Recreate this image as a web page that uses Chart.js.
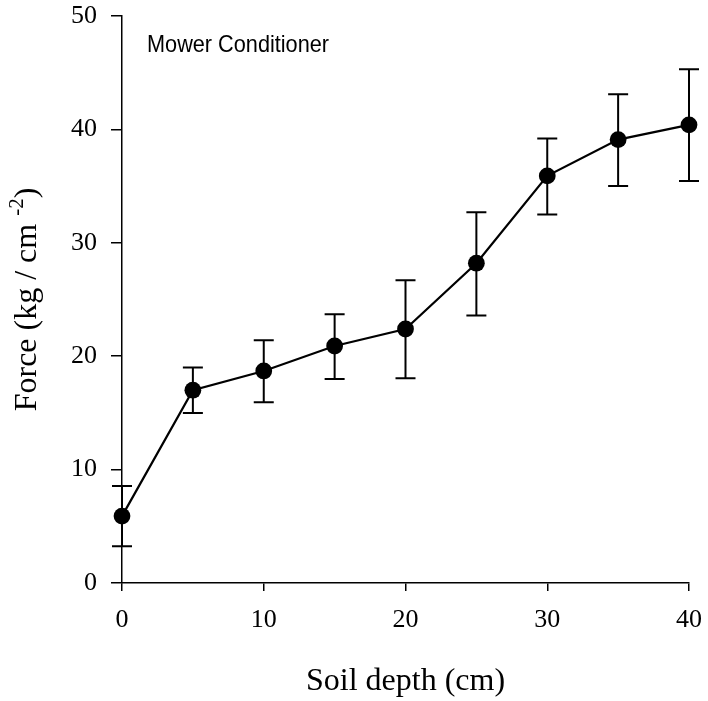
<!DOCTYPE html>
<html>
<head>
<meta charset="utf-8">
<script src="https://cdn.jsdelivr.net/npm/chart.js@4.4.1/dist/chart.umd.min.js"></script>
<style>
    html, body { margin: 0; padding: 0; background: #fff; }
    #wrap { width: 708px; height: 701px; }
</style>
</head>
<body>
<div id="wrap"><canvas id="forceChart"></canvas></div>
<script>
// soil depth (cm) and penetration force (kg/cm-2)
const depth = [0, 5, 10, 15, 20, 25, 30, 35, 40];
const force = [5.9, 17.0, 18.7, 20.9, 22.4, 28.2, 35.9, 39.1, 40.4];
const forceHigh = [8.55, 19.0, 21.4, 23.7, 26.7, 32.7, 39.2, 43.1, 45.3];
const forceLow = [3.25, 15.0, 15.95, 18.0, 18.05, 23.6, 32.5, 35.0, 35.45];
const xTicks = [0, 10, 20, 30, 40];
const yTicks = [0, 10, 20, 30, 40, 50];

const serif = "'Liberation Serif', 'Times New Roman', serif";

// whiskers with caps
const errorBars = {
    id: 'errorBars',
    beforeDatasetsDraw(chart) {
        const { ctx, scales: { x, y } } = chart;
        ctx.save();
        ctx.strokeStyle = '#000';
        ctx.lineWidth = 2;
        depth.forEach((d, i) => {
            const px = x.getPixelForValue(d);
            const top = y.getPixelForValue(forceHigh[i]);
            const bot = y.getPixelForValue(forceLow[i]);
            ctx.beginPath();
            ctx.moveTo(px, top);
            ctx.lineTo(px, bot);
            ctx.moveTo(px - 10, top);
            ctx.lineTo(px + 10, top);
            ctx.moveTo(px - 10, bot);
            ctx.lineTo(px + 10, bot);
            ctx.stroke();
        });
        ctx.restore();
    }
};

// y title with superscript, and the panel label
const extraText = {
    id: 'extraText',
    afterDraw(chart) {
        const { ctx, chartArea } = chart;
        ctx.save();
        ctx.fillStyle = '#000';

        // panel label, narrow sans
        ctx.font = "24px 'Liberation Sans', Arial, sans-serif";
        ctx.textBaseline = 'alphabetic';
        ctx.textAlign = 'left';
        const label = 'Mower Conditioner';
        const w = ctx.measureText(label).width;
        ctx.save();
        ctx.translate(chartArea.left + 25, 52);
        ctx.scale(182 / w, 1);
        ctx.fillText(label, 0, 0);
        ctx.restore();

        // rotated y-axis title
        const main = 'Force (kg / cm ';
        const sup = '-2';
        const tail = ')';
        const mainFont = '32px ' + serif;
        const supFont = '21px ' + serif;
        ctx.font = mainFont;
        const wMain = ctx.measureText(main).width;
        const wTail = ctx.measureText(tail).width;
        ctx.font = supFont;
        const wSup = ctx.measureText(sup).width;
        const total = wMain + wSup + wTail;

        ctx.translate(36, (chartArea.top + chartArea.bottom) / 2);
        ctx.rotate(-Math.PI / 2);
        let cx = -total / 2;
        ctx.font = mainFont;
        ctx.fillText(main, cx, 0);
        cx += wMain;
        ctx.font = supFont;
        ctx.fillText(sup, cx, -13);
        cx += wSup;
        ctx.font = mainFont;
        ctx.fillText(tail, cx, 0);
        ctx.restore();
    }
};

const ctx = document.getElementById('forceChart').getContext('2d');

new Chart(ctx, {
    type: 'line',
    data: {
        datasets: [{
            data: depth.map((d, i) => ({ x: d, y: force[i] })),
            borderColor: '#000',
            borderWidth: 2.2,
            backgroundColor: '#000',
            pointRadius: 8.4,
            pointBackgroundColor: '#000',
            pointBorderWidth: 0,
            tension: 0,
            clip: false
        }]
    },
    options: {
        responsive: true,
        maintainAspectRatio: false,
        animation: false,
        devicePixelRatio: 1,
        layout: {
            padding: { left: 0, right: 19, top: 16, bottom: 0 }
        },
        plugins: {
            legend: { display: false },
            tooltip: { enabled: false }
        },
        scales: {
            x: {
                type: 'linear',
                min: 0,
                max: 40,
                afterBuildTicks: (scale) => { scale.ticks = xTicks.map(v => ({ value: v })); },
                afterFit: (scale) => {
                    scale.height = 118;
                    scale.paddingLeft = 0;
                    scale.paddingRight = 0;
                },
                grid: {
                    drawOnChartArea: false,
                    drawTicks: true,
                    tickLength: 8,
                    color: '#000',
                    lineWidth: 1.5
                },
                border: { display: true, color: '#000', width: 1.5 },
                ticks: {
                    color: '#000',
                    padding: 14,
                    font: { family: serif, size: 26 }
                },
                title: {
                    display: true,
                    text: 'Soil depth (cm)',
                    color: '#000',
                    font: { family: serif, size: 32 },
                    padding: { top: 0, bottom: 0 }
                }
            },
            y: {
                type: 'linear',
                min: 0,
                max: 50,
                afterBuildTicks: (scale) => { scale.ticks = yTicks.map(v => ({ value: v })); },
                afterFit: (scale) => {
                    scale.width = 122;
                    scale.paddingTop = 0;
                    scale.paddingBottom = 0;
                },
                grid: {
                    drawOnChartArea: false,
                    drawTicks: true,
                    tickLength: 11,
                    color: '#000',
                    lineWidth: 1.5
                },
                border: { display: true, color: '#000', width: 1.5 },
                ticks: {
                    color: '#000',
                    padding: 14,
                    font: { family: serif, size: 26 }
                }
            }
        }
    },
    plugins: [errorBars, extraText]
});
</script>
</body>
</html>
